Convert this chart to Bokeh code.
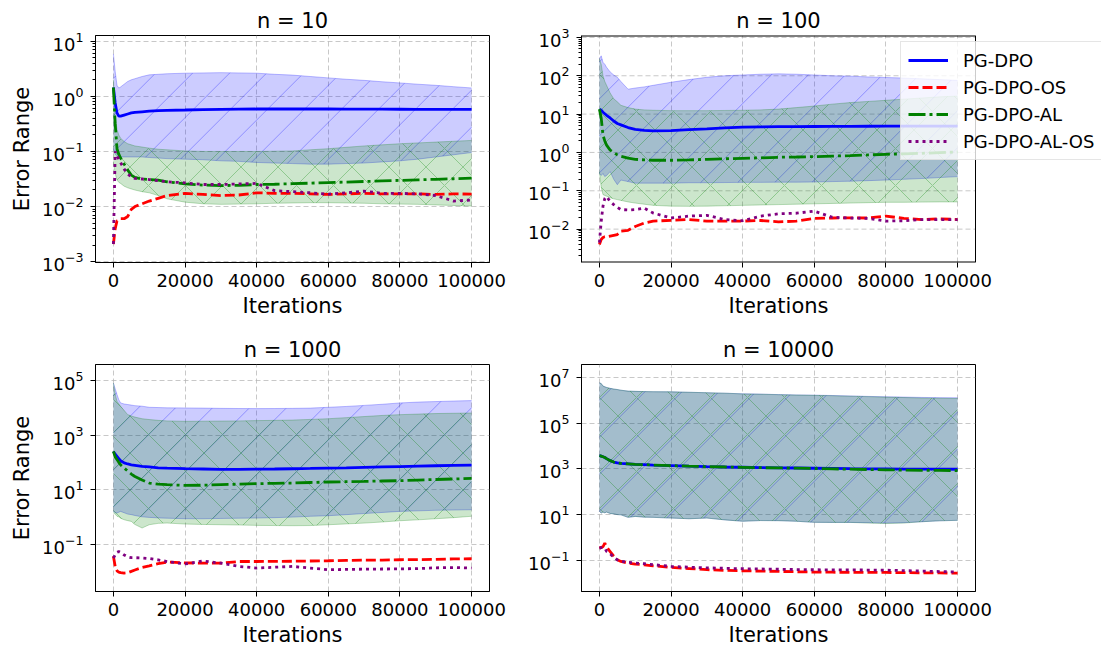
import numpy as np
from bokeh.plotting import figure
from bokeh.layouts import column, row
from bokeh.models import (Range1d, FixedTicker, BasicTickFormatter, Legend, LegendItem, Title)
from bokeh.embed import file_html
from bokeh.resources import INLINE

# ---------------- data (stored as log10 of the error) -------------
iterations = [0, 500, 1000, 1500, 2000, 3000, 4000, 5000, 6000, 8000, 10000, 12500, 15000,
              20000, 25000, 30000, 35000, 40000, 45000, 50000, 55000, 60000, 65000, 70000,
              75000, 80000, 85000, 90000, 95000, 100000]
x_ticks = [0, 20000, 40000, 60000, 80000, 100000]
panel_titles = ["n = 10", "n = 100", "n = 1000", "n = 10000"]
method_names = ["PG-DPO", "PG-DPO-OS", "PG-DPO-AL", "PG-DPO-AL-OS"]
x_label = "Iterations"
y_label = "Error Range"

# n = 10
n10_pgdpo = [0.16, -0.12, -0.30, -0.36, -0.36, -0.34, -0.32, -0.30, -0.29, -0.28, -0.27, -0.26, -0.255, -0.248, -0.24,
             -0.235, -0.232, -0.23, -0.23, -0.23, -0.23, -0.23, -0.231, -0.232, -0.233, -0.234, -0.235, -0.235, -0.236, -0.236]
n10_pgdpo_os = [-2.68, -2.40, -2.26, -2.25, -2.22, -2.22, -2.18, -2.05, -2.00, -1.95, -1.90, -1.85, -1.80, -1.76, -1.78,
                -1.80, -1.79, -1.75, -1.76, -1.76, -1.77, -1.78, -1.77, -1.76, -1.77, -1.77, -1.77, -1.78, -1.77, -1.775]
n10_pgdpo_al = [0.16, -0.50, -0.95, -1.05, -1.12, -1.23, -1.34, -1.43, -1.47, -1.50, -1.51, -1.52, -1.55, -1.59, -1.61,
                -1.62, -1.615, -1.60, -1.595, -1.585, -1.575, -1.565, -1.555, -1.545, -1.535, -1.525, -1.515, -1.505, -1.495, -1.485]
n10_pgdpo_al_os = [-2.68, -1.00, -1.08, -1.14, -1.20, -1.32, -1.41, -1.46, -1.49, -1.50, -1.51, -1.53, -1.55, -1.57, -1.60,
                   -1.60, -1.59, -1.58, -1.71, -1.73, -1.75, -1.775, -1.75, -1.72, -1.76, -1.76, -1.77, -1.80, -1.90, -1.88]
n10_pgdpo_upper = [0.77, 0.45, 0.20, 0.15, 0.17, 0.22, 0.27, 0.30, 0.32, 0.36, 0.39, 0.40, 0.41, 0.42, 0.425,
                   0.43, 0.425, 0.42, 0.40, 0.385, 0.36, 0.335, 0.31, 0.29, 0.265, 0.243, 0.22, 0.20, 0.175, 0.152]
n10_pgdpo_lower = [-0.95, -1.05, -1.08, -1.09, -1.10, -1.10, -1.10, -1.10, -1.10, -1.10, -1.11, -1.12, -1.13, -1.14, -1.15,
                   -1.17, -1.18, -1.20, -1.21, -1.22, -1.23, -1.23, -1.22, -1.21, -1.19, -1.17, -1.14, -1.10, -1.06, -1.02]
n10_al_upper = [0.30, -0.35, -0.60, -0.70, -0.76, -0.82, -0.86, -0.88, -0.90, -0.92, -0.94, -0.96, -0.97, -0.99, -1.00,
                -1.00, -1.00, -1.00, -0.995, -0.99, -0.97, -0.95, -0.925, -0.90, -0.88, -0.86, -0.845, -0.83, -0.815, -0.80]
n10_al_lower = [-1.20, -1.40, -1.52, -1.56, -1.58, -1.63, -1.66, -1.68, -1.70, -1.73, -1.75, -1.80, -1.86, -1.92, -1.95,
                -1.96, -1.955, -1.95, -1.94, -1.935, -1.93, -1.93, -1.935, -1.94, -1.95, -1.955, -1.96, -1.97, -1.98, -1.99]

# n = 100
n100_pgdpo = [1.13, 1.10, 1.05, 1.01, 0.97, 0.90, 0.82, 0.755, 0.72, 0.65, 0.60, 0.575, 0.565, 0.57, 0.595,
              0.617, 0.64, 0.66, 0.667, 0.672, 0.675, 0.677, 0.68, 0.682, 0.683, 0.684, 0.685, 0.685, 0.686, 0.686]
n100_pgdpo_os = [-2.40, -2.27, -2.22, -2.20, -2.20, -2.18, -2.16, -2.14, -2.05, -2.03, -1.93, -1.84, -1.79, -1.77, -1.75,
                 -1.79, -1.79, -1.79, -1.775, -1.81, -1.79, -1.72, -1.71, -1.705, -1.71, -1.66, -1.72, -1.75, -1.73, -1.75]
n100_pgdpo_al = [1.13, 0.90, 0.45, 0.30, 0.19, 0.06, 0.00, -0.065, -0.10, -0.15, -0.178, -0.195, -0.204, -0.204, -0.195,
                 -0.178, -0.165, -0.152, -0.14, -0.126, -0.118, -0.109, -0.096, -0.083, -0.065, -0.048, -0.035, -0.022, -0.005, 0.012]
n100_pgdpo_al_os = [-2.35, -1.80, -1.40, -1.20, -1.15, -1.28, -1.36, -1.43, -1.49, -1.50, -1.49, -1.45, -1.58, -1.71, -1.66,
                    -1.64, -1.75, -1.78, -1.66, -1.60, -1.585, -1.53, -1.69, -1.71, -1.72, -1.79, -1.78, -1.75, -1.75, -1.75]
n100_pgdpo_upper = [2.44, 2.52, 2.35, 2.30, 2.22, 2.10, 2.02, 1.96, 1.85, 1.65, 1.68, 1.71, 1.75, 1.83, 1.90,
                    1.96, 2.00, 2.02, 2.04, 2.05, 2.04, 2.02, 2.00, 1.99, 1.97, 1.955, 1.94, 1.92, 1.90, 1.88]
n100_pgdpo_lower = [-0.55, -0.60, -0.55, -0.63, -0.60, -0.50, -0.70, -0.84, -0.72, -0.76, -0.80, -0.80, -0.80, -0.80, -0.79,
                    -0.79, -0.785, -0.78, -0.78, -0.775, -0.775, -0.77, -0.76, -0.75, -0.735, -0.72, -0.70, -0.68, -0.655, -0.63]
n100_al_upper = [2.44, 2.30, 2.00, 1.85, 1.75, 1.55, 1.40, 1.32, 1.23, 1.17, 1.13, 1.11, 1.10, 1.09, 1.09,
                 1.09, 1.095, 1.10, 1.11, 1.13, 1.17, 1.21, 1.26, 1.30, 1.33, 1.36, 1.39, 1.42, 1.45, 1.47]
n100_al_lower = [-0.50, -0.90, -1.10, -1.12, -1.14, -1.18, -1.21, -1.23, -1.25, -1.29, -1.32, -1.35, -1.38, -1.40, -1.405,
                 -1.40, -1.39, -1.38, -1.37, -1.36, -1.35, -1.34, -1.33, -1.32, -1.31, -1.30, -1.30, -1.295, -1.29, -1.29]

# n = 1000
n1000_pgdpo = [2.40, 2.30, 2.22, 2.14, 2.06, 1.98, 1.94, 1.91, 1.89, 1.85, 1.83, 1.80, 1.785, 1.767, 1.755,
               1.743, 1.743, 1.75, 1.755, 1.765, 1.775, 1.79, 1.80, 1.815, 1.83, 1.845, 1.86, 1.875, 1.89, 1.90]
n1000_pgdpo_os = [-1.45, -1.82, -1.98, -2.03, -2.05, -2.065, -2.05, -2.00, -1.95, -1.86, -1.80, -1.72, -1.66, -1.69, -1.70,
                  -1.70, -1.64, -1.64, -1.635, -1.63, -1.62, -1.612, -1.60, -1.59, -1.585, -1.575, -1.57, -1.56, -1.545, -1.539]
n1000_pgdpo_al = [2.40, 2.20, 2.10, 2.00, 1.91, 1.79, 1.68, 1.57, 1.48, 1.35, 1.24, 1.20, 1.18, 1.155, 1.16,
                  1.18, 1.20, 1.217, 1.23, 1.24, 1.26, 1.278, 1.29, 1.30, 1.315, 1.327, 1.35, 1.37, 1.39, 1.41]
n1000_pgdpo_al_os = [-1.51, -1.40, -1.30, -1.27, -1.30, -1.40, -1.47, -1.50, -1.50, -1.51, -1.53, -1.58, -1.64, -1.73, -1.62,
                     -1.70, -1.82, -1.88, -1.85, -1.82, -1.88, -1.94, -1.93, -1.92, -1.915, -1.91, -1.90, -1.87, -1.86, -1.88]
n1000_pgdpo_upper = [4.91, 4.70, 4.49, 4.30, 4.18, 4.14, 4.12, 4.10, 4.08, 4.06, 4.02, 4.01, 4.00, 3.996, 3.99,
                     3.98, 3.975, 3.971, 3.975, 3.98, 3.99, 4.02, 4.05, 4.09, 4.13, 4.18, 4.21, 4.23, 4.25, 4.265]
n1000_pgdpo_lower = [0.20, 0.15, 0.14, 0.17, 0.20, 0.15, 0.10, 0.08, 0.05, 0.00, -0.02, -0.04, -0.05, -0.069, -0.07,
                     -0.06, -0.05, -0.045, -0.03, -0.01, 0.02, 0.041, 0.08, 0.12, 0.16, 0.20, 0.22, 0.24, 0.25, 0.261]
n1000_al_upper = [4.91, 4.50, 4.24, 4.15, 4.06, 3.90, 3.75, 3.70, 3.66, 3.60, 3.57, 3.54, 3.52, 3.506, 3.51,
                  3.515, 3.52, 3.531, 3.54, 3.55, 3.575, 3.60, 3.64, 3.68, 3.72, 3.75, 3.77, 3.79, 3.80, 3.81]
n1000_al_lower = [0.14, 0.10, 0.02, 0.00, -0.05, -0.106, -0.14, -0.167, -0.28, -0.41, -0.29, -0.24, -0.228, -0.265, -0.28,
                  -0.29, -0.30, -0.314, -0.32, -0.326, -0.32, -0.29, -0.26, -0.23, -0.19, -0.143, -0.11, -0.07, -0.03, 0.02]

# n = 10000
n10000_pgdpo = [3.58, 3.56, 3.53, 3.50, 3.45, 3.36, 3.30, 3.26, 3.24, 3.22, 3.20, 3.19, 3.17, 3.146, 3.12,
                3.10, 3.085, 3.073, 3.06, 3.05, 3.04, 3.03, 3.02, 3.01, 3.005, 3.00, 2.995, 2.99, 2.988, 2.986]
n10000_pgdpo_os = [-0.45, -0.42, -0.39, -0.23, -0.40, -0.60, -0.80, -0.96, -1.03, -1.10, -1.145, -1.18, -1.22, -1.29, -1.34,
                   -1.39, -1.42, -1.436, -1.45, -1.465, -1.48, -1.494, -1.50, -1.505, -1.508, -1.51, -1.52, -1.525, -1.53, -1.538]
n10000_pgdpo_al = [3.58, 3.56, 3.53, 3.50, 3.45, 3.36, 3.30, 3.26, 3.24, 3.22, 3.20, 3.19, 3.17, 3.146, 3.12,
                   3.10, 3.085, 3.07, 3.055, 3.045, 3.035, 3.02, 3.00, 2.99, 2.975, 2.96, 2.95, 2.94, 2.935, 2.93]
n10000_pgdpo_al_os = [-0.45, -0.43, -0.42, -0.45, -0.59, -0.70, -0.85, -0.96, -1.02, -1.07, -1.10, -1.13, -1.17, -1.247, -1.28,
                      -1.31, -1.33, -1.349, -1.36, -1.37, -1.385, -1.393, -1.395, -1.40, -1.405, -1.41, -1.43, -1.45, -1.47, -1.49]
n10000_pgdpo_upper = [6.75, 6.72, 6.61, 6.58, 6.55, 6.51, 6.48, 6.46, 6.43, 6.39, 6.38, 6.37, 6.365, 6.36, 6.34,
                      6.32, 6.30, 6.273, 6.26, 6.24, 6.225, 6.214, 6.20, 6.18, 6.16, 6.142, 6.13, 6.115, 6.105, 6.098]
n10000_pgdpo_lower = [1.15, 1.08, 1.12, 1.09, 1.12, 1.06, 1.04, 1.01, 1.00, 0.89, 0.93, 0.90, 0.89, 0.86, 0.83,
                      0.86, 0.78, 0.72, 0.75, 0.746, 0.72, 0.673, 0.67, 0.67, 0.66, 0.64, 0.66, 0.70, 0.74, 0.76]
n10000_al_upper = [6.75, 6.72, 6.61, 6.58, 6.55, 6.51, 6.48, 6.46, 6.43, 6.39, 6.38, 6.37, 6.365, 6.36, 6.34,
                   6.32, 6.30, 6.27, 6.255, 6.235, 6.22, 6.205, 6.19, 6.17, 6.15, 6.13, 6.11, 6.09, 6.08, 6.07]
n10000_al_lower = [1.15, 1.08, 1.12, 1.09, 1.12, 1.06, 1.04, 1.01, 1.00, 0.89, 0.93, 0.90, 0.89, 0.86, 0.83,
                   0.86, 0.78, 0.72, 0.75, 0.746, 0.72, 0.673, 0.67, 0.67, 0.64, 0.62, 0.64, 0.70, 0.74, 0.76]

# axis extents (log10) and major tick exponents
y_limits = [(-3.015, 1.104), (-2.87, 3.05), (-2.74, 5.59), (-2.34, 7.55)]
y_major_exponents = [[-3, -2, -1, 0, 1], [-2, -1, 0, 1, 2, 3], [-1, 1, 3, 5], [-1, 1, 3, 5, 7]]
y_minor_shown = [True, True, False, False]
x_limits = (-5000, 105000)

panels_lines = [
    [n10_pgdpo, n10_pgdpo_os, n10_pgdpo_al, n10_pgdpo_al_os],
    [n100_pgdpo, n100_pgdpo_os, n100_pgdpo_al, n100_pgdpo_al_os],
    [n1000_pgdpo, n1000_pgdpo_os, n1000_pgdpo_al, n1000_pgdpo_al_os],
    [n10000_pgdpo, n10000_pgdpo_os, n10000_pgdpo_al, n10000_pgdpo_al_os],
]
panels_bands = [
    [(n10_pgdpo_lower, n10_pgdpo_upper), (n10_al_lower, n10_al_upper)],
    [(n100_pgdpo_lower, n100_pgdpo_upper), (n100_al_lower, n100_al_upper)],
    [(n1000_pgdpo_lower, n1000_pgdpo_upper), (n1000_al_lower, n1000_al_upper)],
    [(n10000_pgdpo_lower, n10000_pgdpo_upper), (n10000_al_lower, n10000_al_upper)],
]

# ---------------- styling ----------------
FONT = "DejaVu Sans"
line_colors = ["#0000ff", "#ff0000", "#008000", "#800080"]
line_dashes = ["solid", "10 4", "17 4 3 4", "3 4"]
band_colors = ["#0000ff", "#008000"]
GRID_COLOR, GRID_ALPHA, GRID_DASH = "#b0b0b0", 0.7, "5 3"
HATCH_PX = 37            # spacing of hatch lines, px

FRAME_W, FRAME_H = 394, 227
LEGEND_ROOM = 128        # extra frame width on the n = 100 panel to hold the legend
# (left, right, top, bottom) borders in px
borders = [(95, 36, 35, 60), (53, 0, 35, 60), (95, 36, 41, 60), (53, 128, 41, 60)]
title_standoffs = [6, 6, 5, 5]


def to_err(vals):
    return np.power(10.0, np.asarray(vals, dtype=float))


def text_width(txt, size):
    # DejaVu Sans advance widths (em) for the characters used in titles / labels
    adv = {"n": 0.634, " ": 0.318, "=": 0.838, "0": 0.636, "1": 0.636, "I": 0.295, "t": 0.392,
           "e": 0.615, "r": 0.411, "a": 0.613, "i": 0.278, "o": 0.612, "s": 0.521}
    return sum(adv.get(c, 0.6) for c in txt) * size


def slash_hatch(lower, upper, lo, hi):
    """45-degree '/' hatch segments clipped to the band between lower and upper (log10)."""
    xf = np.linspace(iterations[0], iterations[-1], 4001)
    lo_i = np.interp(xf, iterations, lower)
    up_i = np.interp(xf, iterations, upper)
    px_per_x = FRAME_W / (x_limits[1] - x_limits[0])
    px_per_dec = FRAME_H / (hi - lo)
    slope = px_per_x / px_per_dec
    step = HATCH_PX / px_per_dec
    c_start = lo_i.min() - slope * xf[-1] - step
    xs, ys = [], []
    for c in np.arange(c_start, up_i.max() + step, step):
        v = c + slope * xf
        idx = np.flatnonzero((v >= lo_i) & (v <= up_i))
        if idx.size < 2:
            continue
        cut = np.flatnonzero(np.diff(idx) > 1)
        starts = np.r_[idx[0], idx[cut + 1]]
        ends = np.r_[idx[cut], idx[-1]]
        for s, e in zip(starts, ends):
            if e > s:
                xs.append([xf[s], xf[e]])
                ys.append([10 ** v[s], 10 ** v[e]])
    return xs, ys


def style_axis(ax):
    ax.major_label_text_font = FONT
    ax.major_label_text_font_size = "18px"
    ax.major_label_text_color = "black"
    ax.axis_label_text_font = FONT
    ax.axis_label_text_font_size = "21px"
    ax.axis_label_text_font_style = "normal"
    ax.axis_label_text_color = "black"
    ax.axis_line_color = "black"
    ax.axis_line_width = 1
    ax.major_tick_in = 0
    ax.major_tick_out = 5
    ax.major_tick_line_color = "black"
    ax.minor_tick_in = 0
    ax.minor_tick_out = 3
    ax.minor_tick_line_color = "black"


def build_panel(i, legend_room=0):
    lo, hi = y_limits[i]
    left, right, top, bottom = borders[i]
    fw = FRAME_W + legend_room
    x0, x1 = x_limits
    x_end = x0 + (x1 - x0) * fw / FRAME_W
    ylo, yhi = 10 ** lo, 10 ** hi
    p = figure(frame_width=fw, frame_height=FRAME_H,
               x_range=Range1d(x0, x_end), y_range=Range1d(ylo, yhi),
               y_axis_type="log", output_backend="svg", toolbar_location=None,
               min_border_left=left, min_border_right=right,
               min_border_top=top, min_border_bottom=bottom,
               background_fill_color="white", border_fill_color="white")

    p.title.text = panel_titles[i]
    p.title.text_font = FONT
    p.title.text_font_size = "21px"
    p.title.text_font_style = "normal"
    p.title.text_color = "black"
    p.title.standoff = title_standoffs[i]
    if legend_room:
        p.title.align = "left"
        p.title.offset = FRAME_W / 2 - text_width(panel_titles[i], 21) / 2
    else:
        p.title.align = "center"

    majors = [10.0 ** e for e in y_major_exponents[i]]

    if legend_room:
        # grid lines only over the data area (the legend sits to the right of it)
        p.ygrid.visible = False
        p.segment(x0=[x0] * len(majors), y0=majors, x1=[x1] * len(majors), y1=majors,
                  line_color=GRID_COLOR, line_alpha=GRID_ALPHA, line_dash=GRID_DASH, line_width=1)

    # bands: blue with '/' hatch, green with 'x' hatch
    (b_lo, b_up), (g_lo, g_up) = panels_bands[i]
    p.varea(x=iterations, y1=to_err(b_lo), y2=to_err(b_up),
            fill_color=band_colors[0], fill_alpha=0.2)
    hx, hy = slash_hatch(b_lo, b_up, lo, hi)
    p.multi_line(hx, hy, line_color=band_colors[0], line_alpha=0.3, line_width=1)
    p.line(iterations, to_err(b_lo), line_color=band_colors[0], line_alpha=0.25, line_width=1)
    p.line(iterations, to_err(b_up), line_color=band_colors[0], line_alpha=0.25, line_width=1)

    p.varea(x=iterations, y1=to_err(g_lo), y2=to_err(g_up),
            fill_color=band_colors[1], fill_alpha=0.2,
            hatch_pattern="x", hatch_color=band_colors[1], hatch_alpha=0.3,
            hatch_scale=HATCH_PX, hatch_weight=1)
    p.line(iterations, to_err(g_lo), line_color=band_colors[1], line_alpha=0.25, line_width=1)
    p.line(iterations, to_err(g_up), line_color=band_colors[1], line_alpha=0.25, line_width=1)

    renderers = []
    for vals, col, dash in zip(panels_lines[i], line_colors, line_dashes):
        r = p.line(iterations, to_err(vals), line_color=col, line_width=2.8, line_dash=dash)
        renderers.append(r)

    # axes
    minors = []
    if y_minor_shown[i]:
        for d in range(int(np.floor(lo)), int(np.ceil(hi)) + 1):
            for s in range(2, 10):
                v = s * 10.0 ** d
                if ylo <= v <= yhi:
                    minors.append(v)
    p.yaxis.ticker = FixedTicker(ticks=majors, minor_ticks=minors)
    p.xaxis.ticker = FixedTicker(ticks=x_ticks, minor_ticks=[])
    p.xaxis.formatter = BasicTickFormatter(use_scientific=False)
    style_axis(p.xaxis[0])
    style_axis(p.yaxis[0])
    p.xaxis.major_label_standoff = 6
    p.xaxis.axis_label_standoff = 4
    p.yaxis.major_label_standoff = 7
    p.yaxis.axis_label_standoff = 5
    p.xaxis.minor_tick_line_color = None
    if i in (0, 2):
        p.yaxis.axis_label = y_label

    for g in (p.xgrid[0], p.ygrid[0]):
        g.grid_line_color = GRID_COLOR
        g.grid_line_alpha = GRID_ALPHA
        g.grid_line_dash = GRID_DASH
        g.grid_line_width = 1

    if legend_room:
        p.outline_line_color = None
        p.xaxis.axis_line_color = None
        # box around the data area: bottom, top (half clipped at frame edge) and right spine
        p.segment(x0=[x0, x0, x1], y0=[ylo, yhi, ylo], x1=[x1, x1, x1], y1=[ylo, yhi, yhi],
                  line_color="black", line_width=[2, 2, 1])
        xt = Title(text=x_label, align="left", vertical_align="top",
                   offset=FRAME_W / 2 - text_width(x_label, 21) / 2, standoff=8,
                   text_font=FONT, text_font_size="21px", text_font_style="normal",
                   text_color="black")
        p.add_layout(xt, "below")
    else:
        p.xaxis.axis_label = x_label
        p.outline_line_color = "black"
        p.outline_line_width = 1
        p.outline_line_alpha = 1
    return p, renderers


figs = []
all_renderers = []
for i in range(4):
    f, rs = build_panel(i, LEGEND_ROOM if i == 1 else 0)
    figs.append(f)
    all_renderers.append(rs)

legend = Legend(items=[LegendItem(label=name, renderers=[r])
                       for name, r in zip(method_names, all_renderers[1])],
                location=(319, 102), margin=0, padding=7, spacing=5,
                glyph_width=40, glyph_height=22, label_height=22, label_standoff=15,
                label_text_font=FONT, label_text_font_size="18px", label_text_color="black",
                border_line_color="#cccccc", border_line_width=1,
                background_fill_color="white", background_fill_alpha=0.8)
figs[1].add_layout(legend)

layout = column(row(figs[0], figs[1]), row(figs[2], figs[3]))

with open("out.html", "w") as fh:
    fh.write(file_html(layout, INLINE))
